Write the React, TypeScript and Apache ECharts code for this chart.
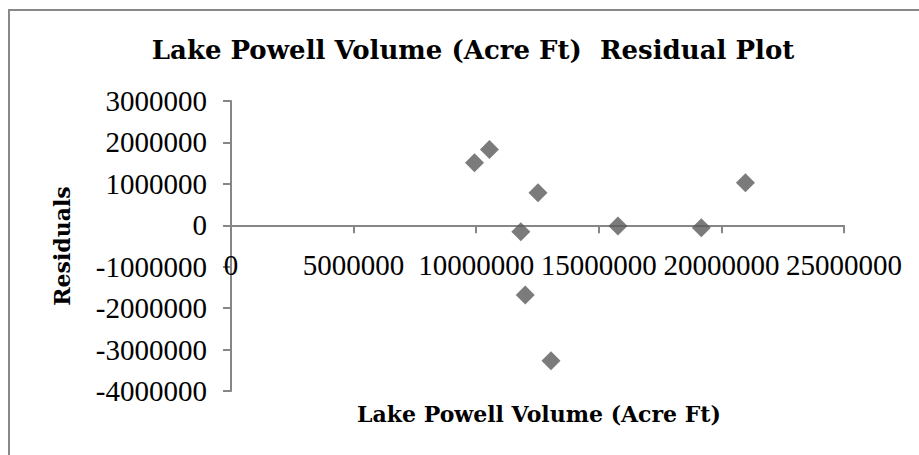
import React, { useEffect, useRef } from "react";
import * as echarts from "echarts";

const volumes = [9930000, 10540000, 12520000, 11820000, 12000000, 13050000, 15780000, 19180000, 20980000];
const residuals = [1508000, 1831000, 786000, -154000, -1680000, -3270000, -17000, -58000, 1027000];

const titleText = "Lake Powell Volume (Acre Ft)  Residual Plot";
const xTitle = "Lake Powell Volume (Acre Ft)";
const yTitle = "Residuals";

const FONT = "'Liberation Serif', 'Times New Roman', serif";
const TFONT = "'DejaVu Serif', serif";

const X_MIN = 0;
const X_MAX = 25000000;
const X_STEP = 5000000;
const Y_MIN = -4000000;
const Y_MAX = 3000000;
const Y_STEP = 1000000;

const GRID_TOP = 101;
const GRID_BOTTOM = 64;
const PLOT_H = 455 - GRID_TOP - GRID_BOTTOM;
// distance of the zero line from the bottom of the plot, from the y scale
const ZERO_OFFSET = (PLOT_H * (0 - Y_MIN)) / (Y_MAX - Y_MIN);

export default function App() {
  const ref = useRef<HTMLDivElement>(null);
  useEffect(() => {
    if (!ref.current) return;
    const chart = echarts.init(ref.current, null, { renderer: "svg" });
    const data = volumes.map((v, i) => [v, residuals[i]]);
    const axisColor = "#868686";
    chart.setOption({
      animation: false,
      backgroundColor: "#ffffff",
      grid: { left: 231, top: GRID_TOP, right: 75, bottom: GRID_BOTTOM, containLabel: false },
      xAxis: [
        {
          type: "value",
          min: X_MIN,
          max: X_MAX,
          interval: X_STEP,
          axisLine: { show: true, onZero: true, lineStyle: { color: axisColor, width: 2 } },
          axisTick: { show: true, length: 8, lineStyle: { color: axisColor, width: 2 } },
          axisLabel: { show: false },
          splitLine: { show: false },
        },
        {
          type: "value",
          position: "bottom",
          offset: -ZERO_OFFSET,
          min: X_MIN,
          max: X_MAX,
          interval: X_STEP,
          axisLine: { show: false, onZero: false },
          axisTick: { show: false },
          axisLabel: {
            formatter: (v: number) => String(v),
            color: "#000",
            fontFamily: FONT,
            fontSize: 29,
            margin: 25,
          },
          splitLine: { show: false },
        },
      ],
      yAxis: {
        type: "value",
        min: Y_MIN,
        max: Y_MAX,
        interval: Y_STEP,
        axisLine: { show: true, onZero: false, lineStyle: { color: axisColor, width: 2 } },
        axisTick: { show: true, length: 8, lineStyle: { color: axisColor, width: 2 } },
        axisLabel: {
          formatter: (v: number) => String(v),
          color: "#000",
          fontFamily: FONT,
          fontSize: 29,
          margin: 24,
        },
        splitLine: { show: false },
      },
      series: [
        {
          type: "scatter",
          xAxisIndex: 0,
          data,
          symbol: "diamond",
          symbolSize: 19,
          itemStyle: { color: "#5a5a5a" },
        },
      ],
      graphic: [
        {
          type: "rect",
          silent: true,
          shape: { x: 9, y: 10, width: 1200, height: 1000 },
          style: { fill: "none", stroke: "#888888", lineWidth: 2 },
        },
        {
          type: "text",
          x: 473,
          y: 50,
          style: {
            text: titleText,
            font: `bold 26px ${TFONT}`,
            fill: "#000",
            textAlign: "center",
            textVerticalAlign: "middle",
          },
        },
        {
          type: "text",
          x: 539,
          y: 414,
          style: {
            text: xTitle,
            font: `bold 22px ${TFONT}`,
            fill: "#000",
            textAlign: "center",
            textVerticalAlign: "middle",
          },
        },
        {
          type: "text",
          x: 62,
          y: 246,
          rotation: Math.PI / 2,
          style: {
            text: yTitle,
            font: `bold 22px ${TFONT}`,
            fill: "#000",
            textAlign: "center",
            textVerticalAlign: "middle",
          },
        },
      ],
    });
    return () => chart.dispose();
  }, []);
  return (
    <div
      ref={ref}
      style={{ position: "fixed", left: 0, top: 0, width: 919, height: 455 }}
    />
  );
}
